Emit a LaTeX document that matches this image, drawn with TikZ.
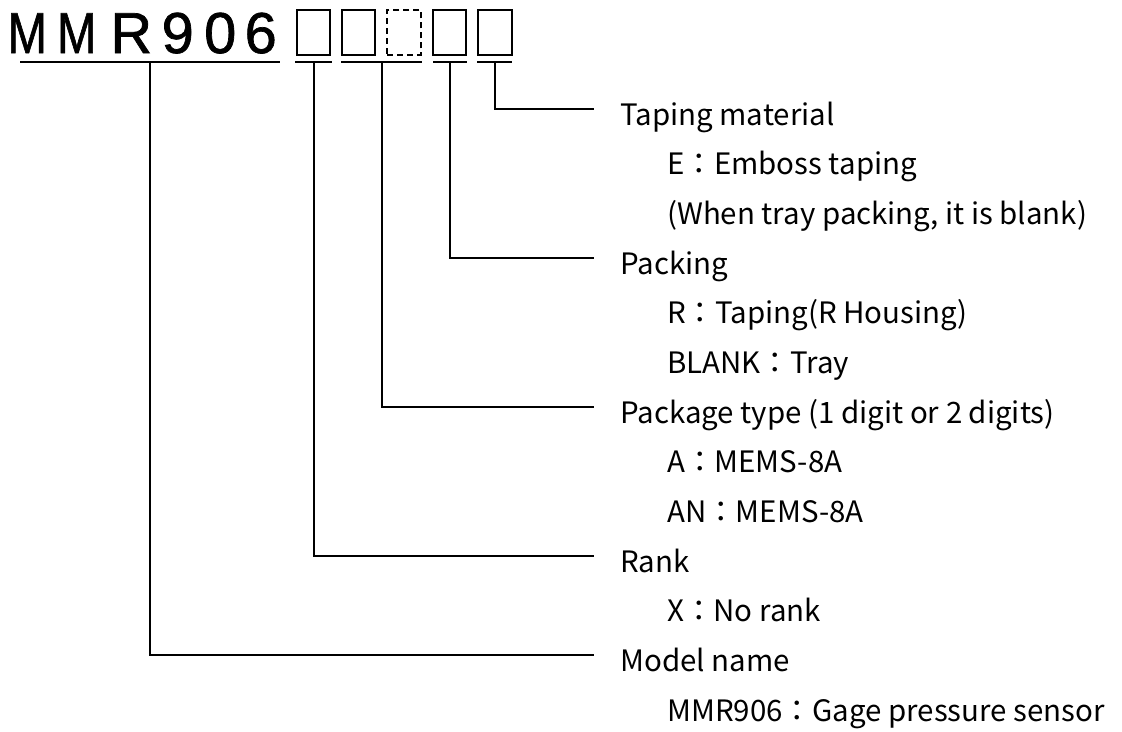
\documentclass[tikz,border=0pt]{standalone}
\usepackage{fontspec}
\usepackage{graphicx}
\setmainfont{Noto Sans CJK JP}
\newfontfamily\titlefont[FakeBold=1.2]{Liberation Sans}
\tikzset{
  x=0.75pt, y=-0.75pt,
  codebox/.style={draw, line width=1.5pt, minimum width=25.1pt, minimum height=33.75pt, inner sep=0pt},
  dashbox/.style={codebox, dash pattern=on 4.5pt off 3pt},
  ul/.style={line width=1.5pt},
  conn/.style={line width=1.5pt},
  lab/.style={anchor=base west, inner sep=0pt, font=\fontsize{22.1pt}{26pt}\selectfont},
}
\newcommand{\tch}[2]{\makebox[#1][c]{#2}}
\begin{document}
\begin{tikzpicture}
\useasboundingbox (0,0) rectangle (1122,732);
% title
\node[anchor=base west, inner sep=0pt] (title) at (5,53)
  {\titlefont\fontsize{43.3pt}{50pt}\selectfont
   \tch{33pt}{\scalebox{0.82}[1]{M}}\tch{41.25pt}{\scalebox{0.82}[1]{M}}\tch{40.5pt}{R}\tch{29.25pt}{9}\tch{34.5pt}{0}\tch{26.25pt}{6}};
% code boxes
\node[codebox] (b1) at (313.25,32.5) {};
\node[codebox] (b2) at (358.65,32.5) {};
\node[dashbox] (b3) at (404.05,32.5) {};
\node[codebox] (b4) at (449.45,32.5) {};
\node[codebox] (b5) at (494.85,32.5) {};
% underlines
\draw[ul] (20,62) -- coordinate (u0) (280,62);
\draw[ul] (295,62) -- coordinate (u1) (332,62);
\draw[ul] (341,62) -- coordinate (u2) (422,62);
\draw[ul] (433,62) -- coordinate (u3) (467,62);
\draw[ul] (477,62) -- coordinate (u4) (512,62);
% connector ends
\coordinate (e4) at (594,109);
\coordinate (e3) at (594,258);
\coordinate (e2) at (594,407);
\coordinate (e1) at (594,556);
\coordinate (e0) at (594,655);
\draw[conn] (u4) |- (e4);
\draw[conn] (u3) |- (e3);
\draw[conn] (u2) |- (e2);
\draw[conn] (u1) |- (e1);
\draw[conn] (u0) |- (e0);
% labels
\node[lab] (l0) at (620,125) {Taping material};
\node[lab] (l1) at (667,174.7) {E：Emboss taping};
\node[lab] (l2) at (667,224.3) {(When tray packing, it is blank)};
\node[lab] (l3) at (620,274) {Packing};
\node[lab] (l4) at (667,323.7) {R：Taping(R Housing)};
\node[lab] (l5) at (667,373.3) {BLANK：Tray};
\node[lab] (l6) at (620,423) {Package type (1 digit or 2 digits)};
\node[lab] (l7) at (667,472.7) {A：MEMS-8A};
\node[lab] (l8) at (667,522.3) {AN：MEMS-8A};
\node[lab] (l9) at (620,572) {Rank};
\node[lab] (l10) at (667,621.7) {X：No rank};
\node[lab] (l11) at (620,671.3) {Model name};
\node[lab] (l12) at (667,721) {MMR906：Gage pressure sensor};
\end{tikzpicture}
\end{document}
